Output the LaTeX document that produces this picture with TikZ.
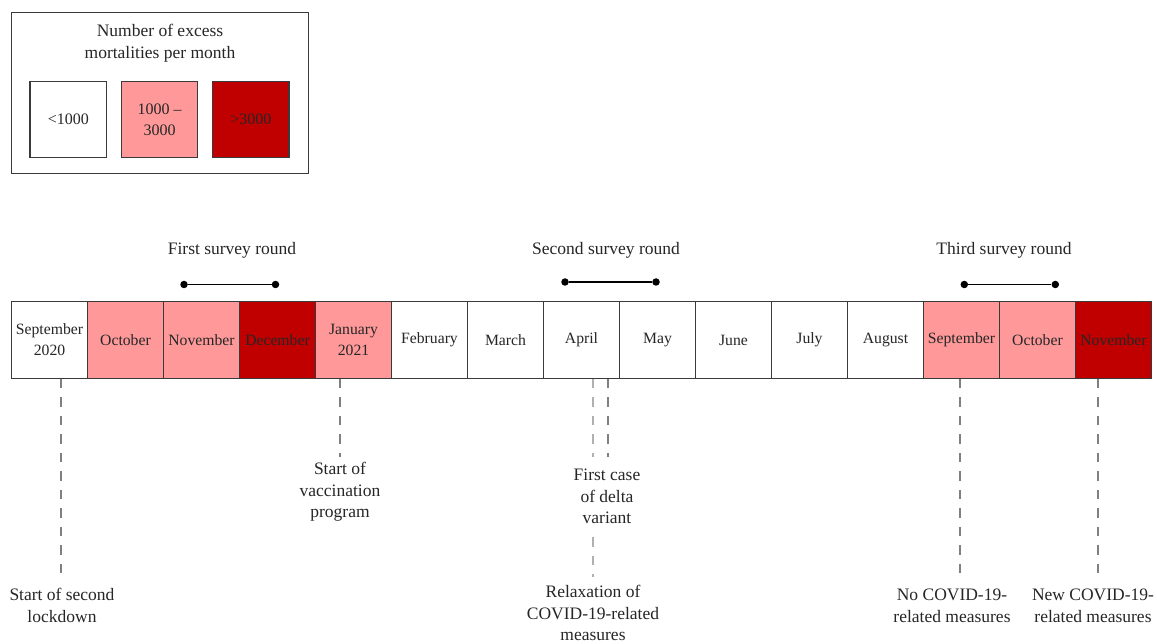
\documentclass[tikz,border=0pt]{standalone}
\usepackage{fontspec}
\setmainfont{Liberation Serif}
\definecolor{pinkc}{HTML}{FF9999}
\definecolor{redc}{HTML}{C00000}
\definecolor{edgec}{HTML}{3A3A3A}
\definecolor{txtc}{HTML}{262626}
\definecolor{evc}{HTML}{808080}
\definecolor{evlight}{HTML}{B0B0B0}
\begin{document}
\begin{tikzpicture}[x=1pt,y=-1pt,
  bigfont/.style={font=\fontsize{17.5}{21.5}\selectfont},
  cell/.style={draw=edgec, line width=1.3pt, minimum width=76pt, minimum height=76.5pt,
    inner sep=0pt, align=center, text=txtc, font=\fontsize{15.7}{21}\selectfont},
  legcell/.style={draw=edgec, line width=1.3pt, minimum width=76.5pt, minimum height=75.5pt,
    inner sep=0pt, align=center, text=txtc, font=\fontsize{16}{21}\selectfont},
  note/.style={bigfont, align=center, inner sep=0pt, anchor=north, text=txtc},
  evline/.style={draw=evc, line width=2.4pt, dash pattern=on 9.5pt off 9pt},
  evlinelight/.style={draw=evlight, line width=2pt, dash pattern=on 9.5pt off 9pt},
  sdot/.style={circle, fill=black, inner sep=0pt, minimum size=7.5pt},
  sline/.style={draw=black, line width=1.4pt}
]
\useasboundingbox (0,0) rectangle (1157,644);

% Legend
\node[draw=edgec, line width=1.3pt, minimum width=296.5pt, minimum height=160.5pt, inner sep=0pt] (legend) at (160,93) {};
\node[note] (legtitle) at (160,24) {Number of excess\\mortalities per month};
\node[legcell, fill=white] (lg1) at (68.3,119.5) {<1000};
\node[legcell, fill=pinkc] (lg2) at (159.5,119.5) {1000 –\\3000};
\node[legcell, fill=redc] (lg3) at (250.8,119.5) {>3000};

% Timeline
\node[cell, fill=white] (m1) at (49.5,340) {September\\2020};
\node[cell, fill=pinkc] (m2) at (125.5,340) {October};
\node[cell, fill=pinkc] (m3) at (201.5,340) {November};
\node[cell, fill=redc] (m4) at (277.5,340) {December};
\node[cell, fill=pinkc] (m5) at (353.5,340) {January\\2021};
\node[cell, fill=white] (m6) at (429.5,340) {February};
\node[cell, fill=white] (m7) at (505.5,340) {March};
\node[cell, fill=white] (m8) at (581.5,340) {April};
\node[cell, fill=white] (m9) at (657.5,340) {May};
\node[cell, fill=white] (m10) at (733.5,340) {June};
\node[cell, fill=white] (m11) at (809.5,340) {July};
\node[cell, fill=white] (m12) at (885.5,340) {August};
\node[cell, fill=pinkc] (m13) at (961.5,340) {September};
\node[cell, fill=pinkc] (m14) at (1037.5,340) {October};
\node[cell, fill=redc] (m15) at (1113.5,340) {November};

% Survey rounds
\node[bigfont, text=txtc] (r1) at (232,250) {First survey round};
\node[sdot] (s1a) at (184,284.5) {};
\node[sdot] (s1b) at (275.5,284.5) {};
\draw[sline] (s1a) -- (s1b);

\node[bigfont, text=txtc] (r2) at (606,250) {Second survey round};
\node[sdot] (s2a) at (565,282) {};
\node[sdot] (s2b) at (656,282) {};
\draw[sline] (s2a) -- (s2b);

\node[bigfont, text=txtc] (r3) at (1004,250) {Third survey round};
\node[sdot] (s3a) at (964.3,284.5) {};
\node[sdot] (s3b) at (1055.3,284.5) {};
\draw[sline] (s3a) -- (s3b);

% Event notes
\node[note] (n1) at (62,588) {Start of second\\lockdown};
\node[note] (n2) at (340,462) {Start of\\vaccination\\program};
\node[note] (n3) at (607,469) {First case\\of delta\\variant};
\node[note] (n4) at (593,585) {Relaxation of\\COVID-19-related\\measures};
\node[note] (n5) at (952,589) {No COVID-19-\\related measures};
\node[note] (n6) at (1093,589) {New COVID-19-\\related measures};

% Event line ends
\coordinate (e1) at (61,575);
\coordinate (e2) at (340,457);
\coordinate (e3) at (607.7,457);
\coordinate (e4a) at (593.3,457);
\coordinate (e4b) at (593.3,537);
\coordinate (e4c) at (593.3,577);
\coordinate (e5) at (960,573);
\coordinate (e6) at (1098,573);

\draw[evline] (m1.south -| e1) -- (e1);
\draw[evline] (m5.south -| e2) -- (e2);
\draw[evlinelight] (m8.south -| e4a) -- (e4a);
\draw[evlinelight] (e4b) -- (e4c);
\draw[evline] (m8.south -| e3) -- (e3);
\draw[evline] (m13.south -| e5) -- (e5);
\draw[evline] (m15.south -| e6) -- (e6);
\end{tikzpicture}
\end{document}
